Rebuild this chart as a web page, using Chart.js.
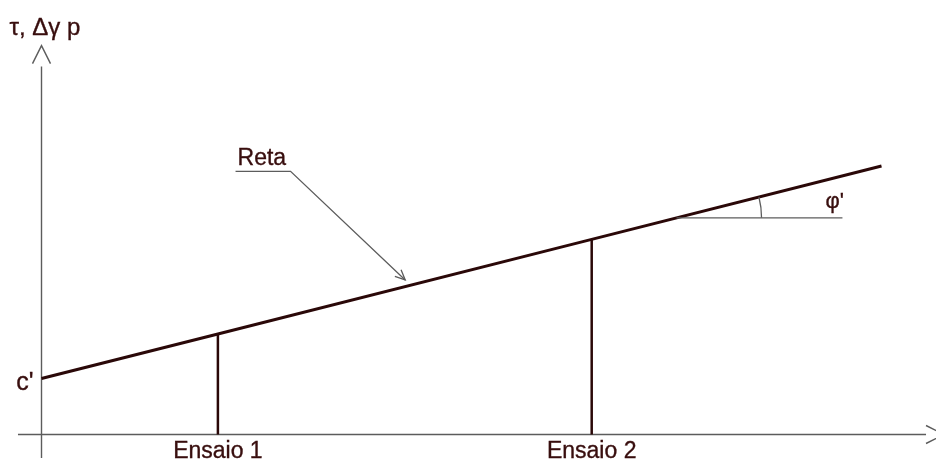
<!DOCTYPE html>
<html>
<head>
<meta charset="utf-8">
<title>Envoltória de resistência</title>
<script src="https://cdn.jsdelivr.net/npm/chart.js@4/dist/chart.umd.min.js"></script>
<style>
  html, body { margin: 0; padding: 0; background: #ffffff; }
  #wrap { width: 936px; height: 464px; }
</style>
</head>
<body>
<div id="wrap"><canvas id="c" width="936" height="464"></canvas></div>
<script>
// Ensaios (tensão normal σ e resistência τ em unidades do diagrama)
const testLabels = ['Ensaio 1', 'Ensaio 2'];
const testSigma = [4.2, 13.1];
const testTau = [3.59, 6.97];

// Reta de resistência: intercepto c' e pontos ao longo da reta
const cohesion = 2.0;
const envelopeSigma = [0, 4.2, 13.1, 20];
const envelopeTau = [2.0, 3.59, 6.97, 9.59];

// Textos
const axisTitle = 'τ, Δγ p';
const cohesionLabel = "c'";
const lineLabel = 'Reta';
const angleLabel = "φ'";

const INK = '#380e0e';
const LINE = '#2a0808';
const GREY = '#5c5c5c';
const FAMILY = '"Liberation Sans", Arial, sans-serif';

const envelopeData = envelopeSigma.map((s, i) => ({ x: s, y: envelopeTau[i] }));
const testDatasets = testSigma.map((s, i) => ({
  label: testLabels[i],
  data: [{ x: s, y: 0 }, { x: s, y: testTau[i] }],
  showLine: true,
  borderColor: LINE,
  borderWidth: 2.5,
  pointRadius: 0,
  tension: 0
}));

function chevron(ctx, tip, dx, dy, half, len) {
  // open arrowhead: two strokes meeting at the tip, pointing along (dx, dy)
  const px = -dy, py = dx;
  ctx.beginPath();
  ctx.moveTo(tip.x - dx * len + px * half, tip.y - dy * len + py * half);
  ctx.lineTo(tip.x, tip.y);
  ctx.lineTo(tip.x - dx * len - px * half, tip.y - dy * len - py * half);
  ctx.stroke();
}

function label(ctx, text, px, py, size) {
  ctx.font = size + 'px ' + FAMILY;
  ctx.fillText(text, px, py);
  ctx.strokeText(text, px, py);
}

const diagramPlugin = {
  id: 'diagram',
  beforeDatasetsDraw(chart) {
    const { ctx, scales: { x, y } } = chart;
    const ox = x.getPixelForValue(0), oy = y.getPixelForValue(0);
    ctx.save();
    ctx.strokeStyle = GREY;
    ctx.lineWidth = 1.4;
    // eixo vertical
    const vTop = y.getPixelForValue(13.14), vBot = y.getPixelForValue(-0.84);
    ctx.beginPath(); ctx.moveTo(ox, vBot); ctx.lineTo(ox, vTop); ctx.stroke();
    chevron(ctx, { x: ox, y: vTop - 21 }, 0, -1, 9, 18);
    // eixo horizontal
    const hL = x.getPixelForValue(-0.56), hR = x.getPixelForValue(21.06);
    ctx.beginPath(); ctx.moveTo(hL, oy); ctx.lineTo(hR, oy); ctx.stroke();
    chevron(ctx, { x: hR + 18, y: oy }, 1, 0, 9, 18);
    ctx.restore();
  },
  afterDatasetsDraw(chart) {
    const { ctx, scales: { x, y } } = chart;
    const ox = x.getPixelForValue(0);
    ctx.save();
    ctx.fillStyle = INK;
    ctx.strokeStyle = INK;
    ctx.lineWidth = 0.35;

    // título do eixo vertical
    ctx.textAlign = 'left';
    ctx.textBaseline = 'alphabetic';
    label(ctx, axisTitle, ox - 32, y.getPixelForValue(13.14) - 32, 24);

    // c'
    ctx.textAlign = 'right';
    ctx.textBaseline = 'middle';
    label(ctx, cohesionLabel, ox - 8, y.getPixelForValue(cohesion) + 5, 25);

    // rótulos dos ensaios
    ctx.textAlign = 'center';
    ctx.textBaseline = 'alphabetic';
    testSigma.forEach((s, i) => {
      label(ctx, testLabels[i], x.getPixelForValue(s), y.getPixelForValue(0) + 23, 23);
    });

    // ângulo φ' entre a reta e a horizontal
    const n = envelopeSigma.length - 1;
    const ax = x.getPixelForValue(envelopeSigma[0]), ay = y.getPixelForValue(envelopeTau[0]);
    const bx = x.getPixelForValue(envelopeSigma[n]), by = y.getPixelForValue(envelopeTau[n]);
    const ang = Math.atan2(by - ay, bx - ax);
    const s0 = 15.12;
    const t0 = envelopeTau[0] + (envelopeTau[n] - envelopeTau[0]) * (s0 - envelopeSigma[0]) / (envelopeSigma[n] - envelopeSigma[0]);
    const cx = x.getPixelForValue(s0), cy = y.getPixelForValue(t0);
    ctx.textAlign = 'left';
    label(ctx, angleLabel, cx + 149, cy - 10, 22);

    // "Reta" com linha de chamada
    const lx = x.getPixelForValue(4.62), ly = y.getPixelForValue(9.4);
    label(ctx, lineLabel, lx + 2, ly - 6, 23);

    ctx.strokeStyle = GREY;
    ctx.lineWidth = 1.3;
    ctx.beginPath(); ctx.moveTo(cx, cy); ctx.lineTo(x.getPixelForValue(19.07), cy); ctx.stroke();
    ctx.beginPath(); ctx.arc(cx, cy, 85, ang, 0); ctx.stroke();

    const ex = x.getPixelForValue(5.93);
    const tx = x.getPixelForValue(8.66), ty = y.getPixelForValue(5.52);
    ctx.beginPath();
    ctx.moveTo(lx, ly); ctx.lineTo(ex, ly); ctx.lineTo(tx, ty);
    ctx.stroke();
    const dl = Math.hypot(tx - ex, ty - ly);
    const ux = (tx - ex) / dl, uy = (ty - ly) / dl;
    chevron(ctx, { x: tx, y: ty }, ux, uy, 4.5, 10);
    ctx.restore();
  }
};

new Chart(document.getElementById('c'), {
  type: 'scatter',
  data: {
    datasets: [
      {
        label: lineLabel,
        data: envelopeData,
        showLine: true,
        borderColor: LINE,
        borderWidth: 3,
        pointRadius: 0,
        tension: 0
      },
      ...testDatasets
    ]
  },
  options: {
    responsive: false,
    devicePixelRatio: 1,
    animation: false,
    layout: { padding: 0 },
    plugins: { legend: { display: false }, tooltip: { enabled: false } },
    scales: {
      x: { type: 'linear', display: false, min: -41.5 / 42, max: (936 - 41.5) / 42 },
      y: { type: 'linear', display: false, min: -(464 - 434.5) / 28, max: 434.5 / 28 }
    }
  },
  plugins: [diagramPlugin]
});
</script>
</body>
</html>
